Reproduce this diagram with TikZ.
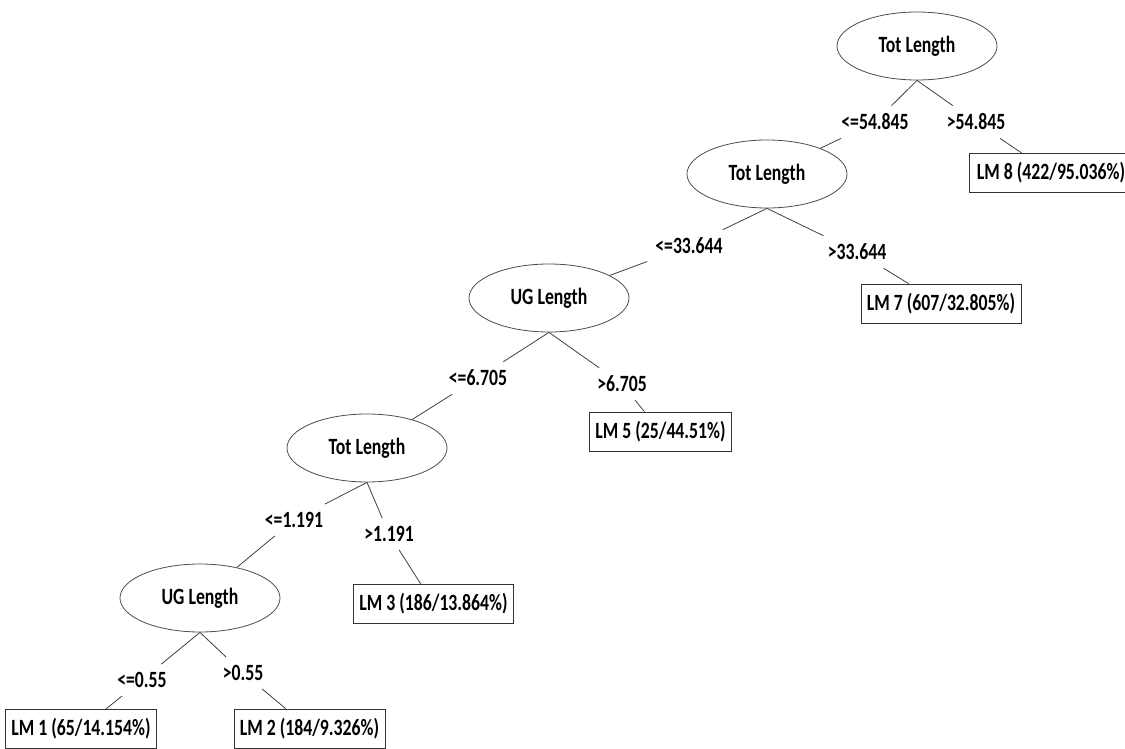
\documentclass[tikz,border=0pt]{standalone}
\usepackage{fontspec}
\setmainfont{Carlito}[FakeStretch=0.76]
\usetikzlibrary{shapes.geometric}
\begin{document}
\begin{tikzpicture}[x=1pt,y=-1pt,
        every node/.style={font=\fontsize{23.3}{28}\selectfont\bfseries},
        split/.style={ellipse,draw=black!70,line width=0.8pt,inner sep=0pt,minimum width=160pt,minimum height=68pt},
        leaf/.style={rectangle,draw=black!80,line width=0.8pt,inner xsep=6pt,minimum height=39pt},
        cond/.style={inner sep=8pt},
        edge/.style={draw=black!75,line width=0.8pt}]
        \useasboundingbox (0,0) rectangle (1125,749);
        \clip (0,0) rectangle (1125,749);

        % Split nodes
        \node[split] (t1) at (917, 46) {Tot Length};
        \node[split] (t2) at (767, 174) {Tot Length};
        \node[split] (u1) at (549, 298) {UG Length};
        \node[split] (t3) at (367, 448) {Tot Length};
        \node[split] (u2) at (200, 598) {UG Length};

        % Leaves
        \node[leaf,inner xsep=8pt] (lm8) at (1051, 173) {LM 8 (422/95.036\%)};
        \node[leaf] (lm7) at (941, 303.5) {LM 7 (607/32.805\%)};
        \node[leaf] (lm5) at (660.5, 431.5) {LM 5 (25/44.51\%)};
        \node[leaf] (lm3) at (433.5, 604) {LM 3 (186/13.864\%)};
        \node[leaf] (lm1) at (81, 729) {LM 1 (65/14.154\%)};
        \node[leaf] (lm2) at (309.5, 728.5) {LM 2 (184/9.326\%)};

        % Conditions
        \node[cond] (c1) at (875, 122) {<=54.845};
        \node[cond] (c2) at (976, 122) {>54.845};
        \node[cond] (c3) at (689, 246) {<=33.644};
        \node[cond] (c4) at (857, 252) {>33.644};
        \node[cond] (c5) at (478, 378) {<=6.705};
        \node[cond] (c6) at (622, 384) {>6.705};
        \node[cond] (c7) at (294, 520) {<=1.191};
        \node[cond] (c8) at (389, 534) {>1.191};
        \node[cond] (c9) at (142, 680) {<=0.55};
        \node[cond] (c10) at (243, 673) {>0.55};

        % Edges
        \draw[edge] (t1.south) -- (c1) -- (t2);
        \draw[edge] (t1.south) -- (c2) -- (lm8);
        \draw[edge] (t2.south) -- (c3) -- (u1);
        \draw[edge] (t2.south) -- (c4) -- (lm7);
        \draw[edge] (u1.south) -- (c5) -- (t3);
        \draw[edge] (u1.south) -- (c6) -- (lm5);
        \draw[edge] (t3.south) -- (c7) -- (u2);
        \draw[edge] (t3.south) -- (c8) -- (lm3);
        \draw[edge] (u2.south) -- (c9) -- (lm1);
        \draw[edge] (u2.south) -- (c10) -- (lm2);
    \end{tikzpicture}
\end{document}
